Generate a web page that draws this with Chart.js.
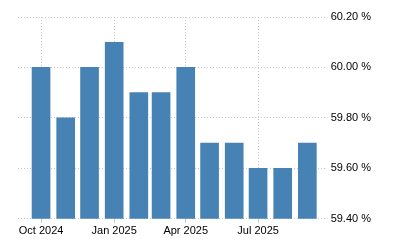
<!DOCTYPE html>
<html>
<head>
<meta charset="utf-8">
<script src="https://cdn.jsdelivr.net/npm/chart.js@4"></script>
<style>
    html, body { margin: 0; padding: 0; background: #fff; }
    #wrap { width: 400px; height: 250px; }
</style>
</head>
<body>
<div id="wrap"><canvas id="chart"></canvas></div>
<script>
// Monthly values (percent)
const months = ['2024-10', '2024-11', '2024-12', '2025-01', '2025-02', '2025-03',
                '2025-04', '2025-05', '2025-06', '2025-07', '2025-08', '2025-09'];
const values = [60.0, 59.8, 60.0, 60.1, 59.9, 59.9, 60.0, 59.7, 59.7, 59.6, 59.6, 59.7];
const tickMonths = ['2024-10', '2025-01', '2025-04', '2025-07'];
const yTicks = [59.4, 59.6, 59.8, 60.0, 60.2];
const monthNames = ['Jan', 'Feb', 'Mar', 'Apr', 'May', 'Jun', 'Jul', 'Aug', 'Sep', 'Oct', 'Nov', 'Dec'];

const DAY = 86400000;
function toDay(s) {
    const [y, m] = s.split('-').map(Number);
    return Date.UTC(y, m - 1, 1) / DAY;
}
function dayLabel(d) {
    const dt = new Date(d * DAY);
    return monthNames[dt.getUTCMonth()] + ' ' + dt.getUTCFullYear();
}

const points = months.map((m, i) => ({ x: toDay(m), y: values[i] }));
const xMin = toDay(months[0]) - 29;
const xMax = toDay(months[months.length - 1]) + 23;

Chart.defaults.font.family = '"Liberation Sans", Arial, sans-serif';
Chart.defaults.font.size = 11;
Chart.defaults.color = '#000';

new Chart(document.getElementById('chart'), {
    type: 'bar',
    data: {
        datasets: [{
            data: points,
            backgroundColor: '#4682B4',
            barThickness: 18
        }]
    },
    options: {
        responsive: true,
        maintainAspectRatio: false,
        animation: false,
        layout: { padding: { left: 18, top: 17, right: 24, bottom: 10 } },
        plugins: {
            legend: { display: false },
            tooltip: { enabled: false }
        },
        scales: {
            x: {
                type: 'linear',
                min: xMin,
                max: xMax,
                offset: false,
                afterBuildTicks: (scale) => {
                    scale.ticks = tickMonths.map(m => ({ value: toDay(m) }));
                },
                ticks: {
                    autoSkip: false,
                    maxRotation: 0,
                    padding: 2,
                    callback: (v) => dayLabel(v)
                },
                grid: {
                    offset: false,
                    color: '#c8c8c8',
                    tickLength: 4
                },
                border: { display: false, dash: [1, 2] }
            },
            y: {
                position: 'right',
                min: 59.4,
                max: 60.2,
                afterBuildTicks: (scale) => {
                    scale.ticks = yTicks.map(v => ({ value: v }));
                },
                ticks: {
                    padding: 5,
                    callback: (v) => v.toFixed(2) + ' %'
                },
                grid: {
                    color: '#c8c8c8',
                    tickLength: 0
                },
                border: { display: false, dash: [1, 2] }
            }
        }
    }
});
</script>
</body>
</html>
